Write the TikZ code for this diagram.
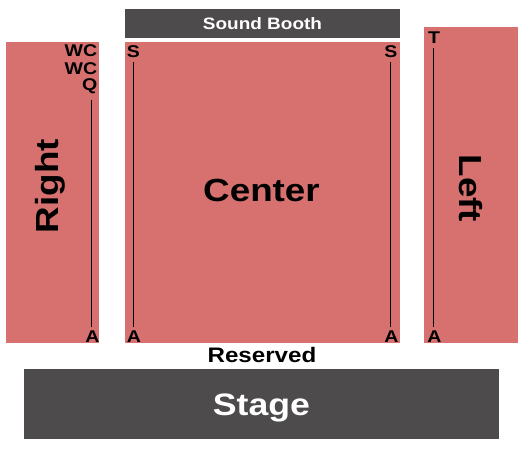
\documentclass[tikz,border=0pt]{standalone}
\usepackage{fontspec}
\setmainfont{Liberation Sans}[FakeStretch=1.15]
\definecolor{sec}{HTML}{D77170}
\definecolor{dark}{HTML}{4D4B4C}
\begin{document}
\begin{tikzpicture}[x=1pt,y=-1pt,
  section/.style={fill=sec,draw=none},
  block/.style={fill=dark,draw=none},
  rowlab/.style={font=\fontsize{17}{17}\selectfont\bfseries,inner sep=0pt,anchor=base},
  rowline/.style={draw=black,line width=0.8pt},
  biglab/.style={font=\fontsize{32}{32}\selectfont\bfseries,inner sep=0pt}]
\useasboundingbox (0,0) rectangle (525,450);
% blocks
\path[block] (125,9) rectangle (400,37.5);
\node[font=\fontsize{16.5}{16.5}\selectfont\bfseries,text=white,inner sep=0pt,anchor=base] (booth) at (262.5,29) {Sound Booth};
\path[section] (6,42) rectangle (99,343);
\path[section] (125,42) rectangle (400,343);
\path[section] (424,27) rectangle (518,343);
\path[block] (24,369) rectangle (499,439);
\node[font=\fontsize{31}{31}\selectfont\bfseries,text=white,inner sep=0pt,anchor=base] (stage) at (261.5,415) {Stage};
\node[font=\fontsize{21}{21}\selectfont\bfseries,inner sep=0pt,anchor=base] (res) at (262,362.5) {Reserved};
% section names
\node[biglab,anchor=base] (center) at (261.5,201) {Center};
\node[biglab,rotate=90] (right) at (50,186) {Right};
\node[biglab,rotate=-90] (left) at (471,188.5) {Left};
% row labels Right section
\node[rowlab,anchor=base east] (rwc1) at (97.5,56.5) {WC};
\node[rowlab,anchor=base east] (rwc2) at (97.5,74) {WC};
\node[rowlab,anchor=base east] (rq) at (97.5,90) {Q};
\node[rowlab] (ra) at (92.5,342) {A};
\coordinate (rt) at (91,100);
\coordinate (rb) at (91,327);
\draw[rowline] (rt) -- (rb);
% Center section
\node[rowlab] (cls) at (133.5,57) {S};
\node[rowlab] (cla) at (134,342) {A};
\coordinate (clt) at (133,62);
\coordinate (clb) at (133,327);
\draw[rowline] (clt) -- (clb);
\node[rowlab] (crs) at (391,57) {S};
\node[rowlab] (cra) at (391.5,342) {A};
\coordinate (crt) at (390.5,62);
\coordinate (crb) at (390.5,327);
\draw[rowline] (crt) -- (crb);
% Left section
\node[rowlab] (lt) at (434,43) {T};
\node[rowlab] (la) at (434.5,342) {A};
\coordinate (ltt) at (433,48);
\coordinate (ltb) at (433,327);
\draw[rowline] (ltt) -- (ltb);
\end{tikzpicture}
\end{document}
